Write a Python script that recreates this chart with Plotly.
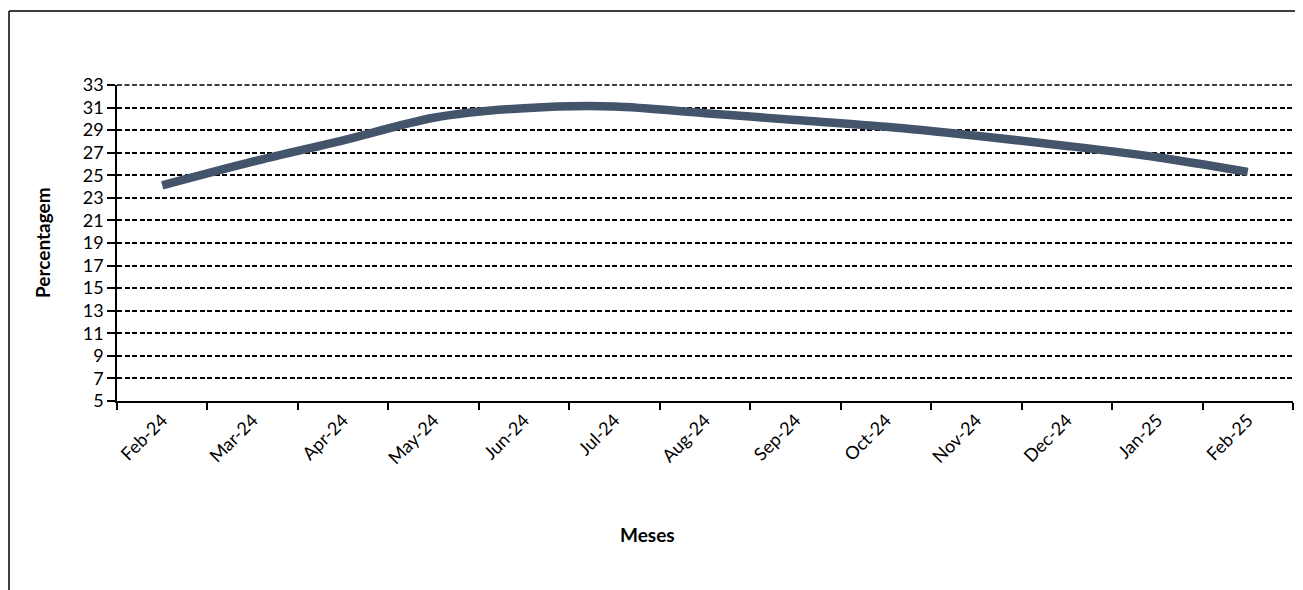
import plotly.graph_objects as go

months = ["Feb-24", "Mar-24", "Apr-24", "May-24", "Jun-24", "Jul-24", "Aug-24",
          "Sep-24", "Oct-24", "Nov-24", "Dec-24", "Jan-25", "Feb-25"]
percent = [24.1, 26.2, 28.1, 30.1, 30.95, 31.1, 30.5, 29.9, 29.3, 28.5, 27.6, 26.6, 25.3]
y_ticks = list(range(5, 34, 2))

W, H = 1303, 590
OFF = 8  # page body offset
# target plot area in page pixels
PX0, PX1, PY0, PY1 = 117, 1293, 85, 401
L = PX0 - OFF
R = W - (PX1 - OFF)
T = PY0 - OFF
B = H - (PY1 - OFF)
pw, ph = PX1 - PX0, PY1 - PY0
Y0, Y1 = y_ticks[0], y_ticks[-1]


def px(x):
    return (x - PX0) / pw


def py(y):
    return (PY1 - y) / ph


FONT = "Lato, 'Open Sans', sans-serif"
DASH = "5px,2.5px"

fig = go.Figure()
fig.add_trace(go.Scatter(
    x=months, y=percent, mode="lines",
    line=dict(color="#44546A", width=8.5, shape="spline", smoothing=0.8),
    showlegend=False, hoverinfo="x+y",
))

fig.update_layout(
    width=W, height=H,
    margin=dict(l=L, r=R, t=T, b=B),
    paper_bgcolor="white", plot_bgcolor="white",
    font=dict(family=FONT, size=18, color="black"),
    xaxis=dict(
        type="category", range=[-0.5, len(months) - 0.5],
        tickson="boundaries", ticks="outside", ticklen=7, tickwidth=1.5, tickcolor="black",
        showline=True, linecolor="black", linewidth=1.5,
        showgrid=False, tickangle=-45, tickfont=dict(size=18),
        zeroline=False,
    ),
    yaxis=dict(
        range=[Y0, Y1], tickvals=y_ticks, ticks="outside", ticklen=8, tickwidth=1.5,
        tickcolor="black", showline=True, linecolor="black", linewidth=1.5,
        showgrid=True, gridcolor="black", gridwidth=1.5, griddash=DASH,
        tickfont=dict(size=18),
        zeroline=False,
    ),
    annotations=[
        dict(text="<b>Meses</b>", xref="paper", yref="paper", x=px(647), y=py(534),
             xanchor="center", yanchor="middle", showarrow=False, font=dict(size=19)),
        dict(text="<b>Percentagem</b>", xref="paper", yref="paper", x=px(42), y=0.5,
             xanchor="center", yanchor="middle", textangle=-90, showarrow=False,
             font=dict(size=19)),
    ],
)

# top gridline (plotly skips the grid line at the range edge)
fig.add_shape(type="line", xref="paper", yref="paper", x0=0, x1=1, y0=1, y1=1,
              line=dict(color="black", width=1.5, dash=DASH), layer="below")

# outer frame (left and top edges visible)
fx = px(9)
fy = py(11)
fig.add_shape(type="line", xref="paper", yref="paper", x0=fx, x1=px(W + 20),
              y0=fy, y1=fy, line=dict(color="black", width=1.5))
fig.add_shape(type="line", xref="paper", yref="paper", x0=fx, x1=fx,
              y0=fy, y1=py(H + 20), line=dict(color="black", width=1.5))

fig.write_html("out.html")
